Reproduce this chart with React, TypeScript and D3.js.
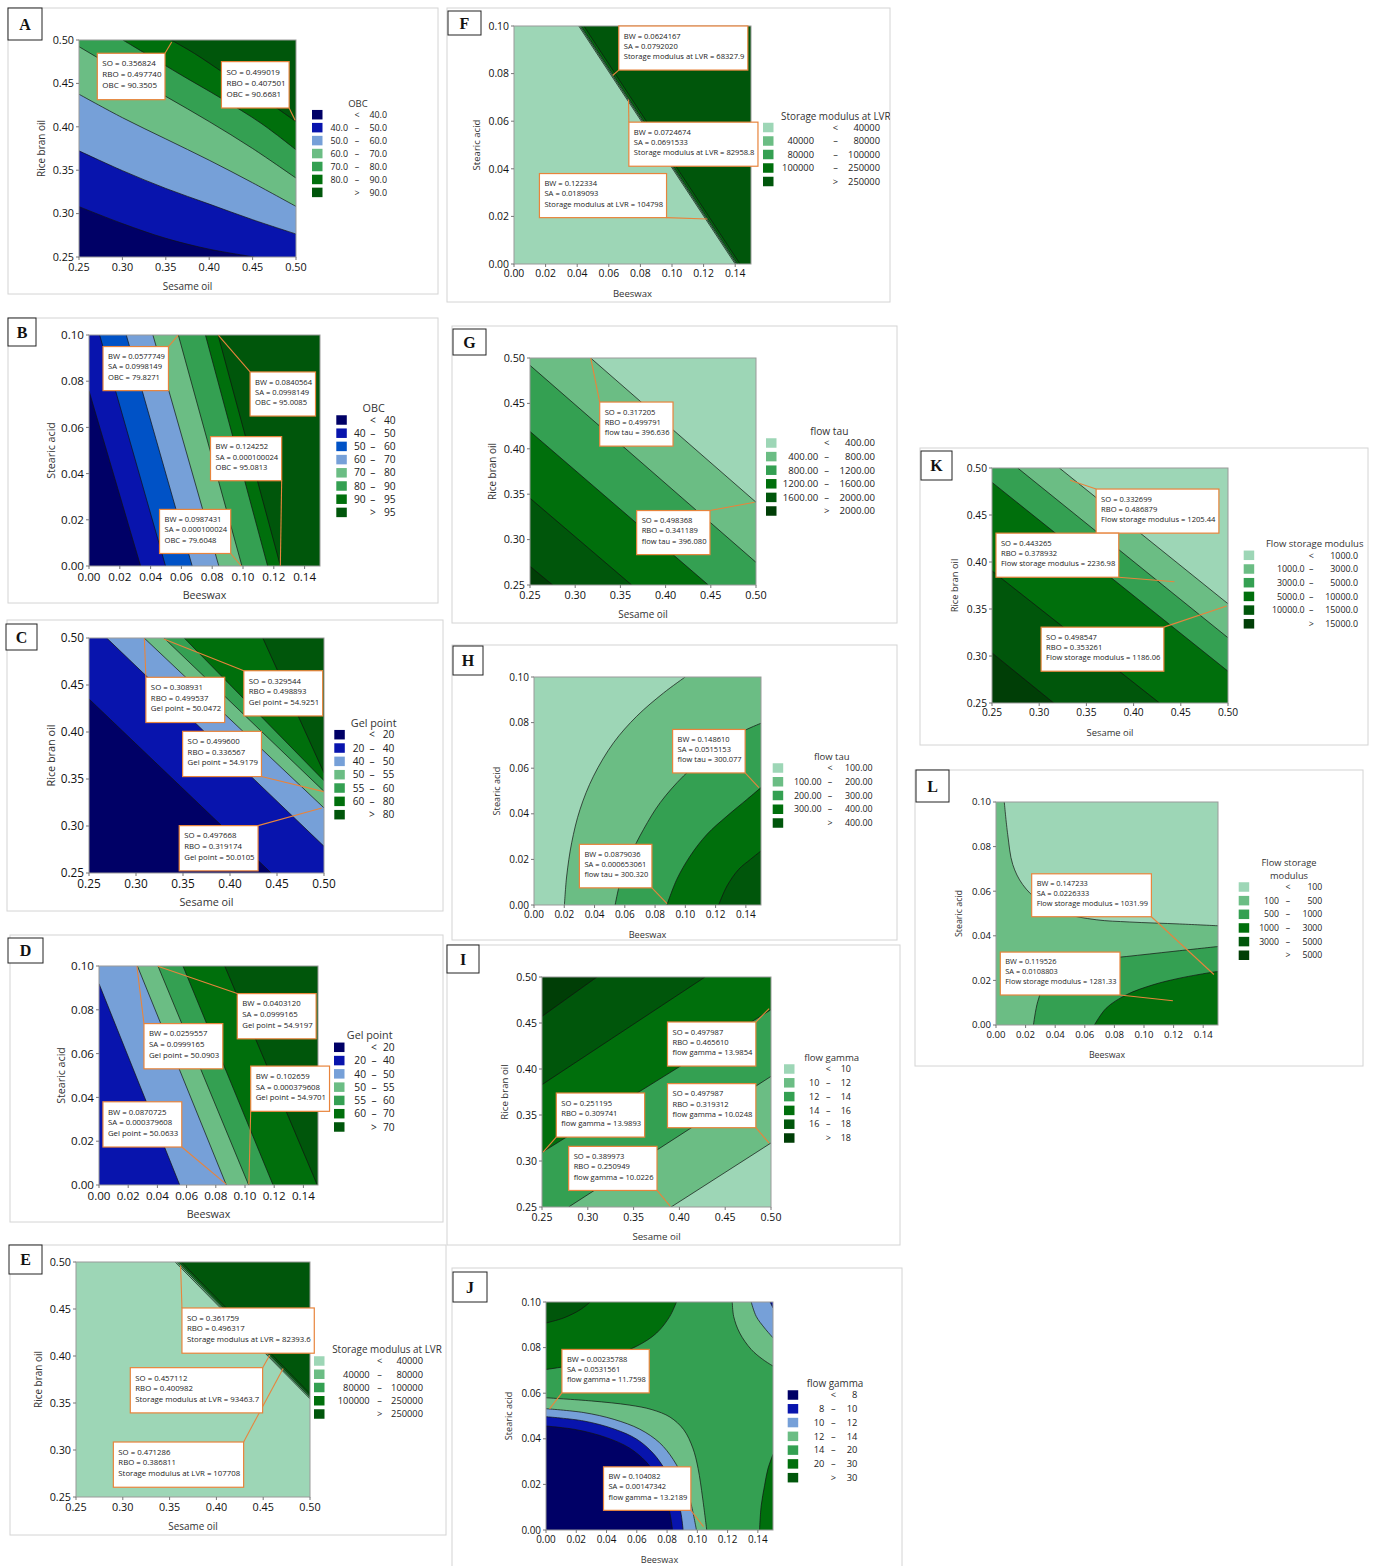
import * as d3 from 'd3';

// palette of the Minitab contour bands
const C = {
  navy: '#000066',
  blue: '#0814ad',
  blue2: '#0052c6',
  lblue: '#76a0d8',
  mint: '#9dd6b6',
  lgreen: '#6bbd84',
  green: '#34a052',
  dgreen: '#006f0c',
  ddgreen: '#00560b',
  dddgreen: '#003e06',
};
const ORANGE = '#e8843c';
const FONT = "'Open Sans', 'Noto Sans', sans-serif";

// axes shared by the two kinds of plot
const oilTicks = [0.25, 0.3, 0.35, 0.4, 0.45, 0.5];
const waxTicksX = [0, 0.02, 0.04, 0.06, 0.08, 0.1, 0.12, 0.14];
const waxTicksY = [0, 0.02, 0.04, 0.06, 0.08, 0.1];
const OIL = { xd: [0.25, 0.5], yd: [0.25, 0.5], xt: oilTicks, yt: oilTicks, xl: 'Sesame oil', yl: 'Rice bran oil', xn: 'SO', yn: 'RBO' };
const WAX = { xd: [0, 0.15], yd: [0, 0.1], xt: waxTicksX, yt: waxTicksY, xl: 'Beeswax', yl: 'Stearic acid', xn: 'BW', yn: 'SA' };

// ---------- A: OBC, sesame oil x rice bran oil
const aBins = ['40.0', '50.0', '60.0', '70.0', '80.0', '90.0'];
const aColors = [C.navy, C.blue, C.lblue, C.lgreen, C.green, C.dgreen, C.ddgreen];
const aContours = [
  { level: 1, line: [[0.25, 0.308], [0.3, 0.2885], [0.35, 0.2715], [0.4, 0.259], [0.452, 0.25]] },
  { level: 2, line: [[0.25, 0.3723], [0.3, 0.3495], [0.35, 0.329], [0.4, 0.311], [0.45, 0.293], [0.5, 0.2765]] },
  { level: 3, line: [[0.25, 0.4375], [0.3, 0.4105], [0.35, 0.386], [0.4, 0.3615], [0.45, 0.3355], [0.5, 0.3083]] },
  { level: 4, line: [[0.25, 0.4923], [0.3, 0.463], [0.35, 0.435], [0.4, 0.406], [0.45, 0.375], [0.5, 0.3409]] },
  { level: 5, line: [[0.3006, 0.5], [0.3294, 0.4827], [0.3677, 0.4597], [0.4137, 0.4329], [0.4597, 0.4041], [0.5, 0.3735]] },
  { level: 6, line: [[0.3562, 0.5], [0.383, 0.4845], [0.4176, 0.4615], [0.4559, 0.4367], [0.5, 0.406]] },
];
const aNotes = [['0.356824', '0.497740', '90.3505'], ['0.499019', '0.407501', '90.6681']];

// ---------- B: OBC, beeswax x stearic acid
const bBins = ['40', '50', '60', '70', '80', '90', '95'];
const bColors = [C.navy, C.blue, C.blue2, C.lblue, C.lgreen, C.green, C.dgreen, C.ddgreen];
const bContours = [
  { level: 1, line: [[0, 0.0758], [0.0335, 0]] },
  { level: 2, line: [[0.0069, 0.1], [0.0497, 0]] },
  { level: 3, line: [[0.0242, 0.1], [0.067, 0]] },
  { level: 4, line: [[0.0415, 0.1], [0.0843, 0]] },
  { level: 5, line: [[0.058, 0.1], [0.0993, 0]] },
  { level: 6, line: [[0.0756, 0.1], [0.116, 0]] },
  { level: 7, line: [[0.0838, 0.1], [0.1243, 0]] },
];
const bNotes = [
  ['0.0577749', '0.0998149', '79.8271'],
  ['0.0840564', '0.0998149', '95.0085'],
  ['0.124252', '0.000100024', '95.0813'],
  ['0.0987431', '0.000100024', '79.6048'],
];

// ---------- C: gel point, sesame oil x rice bran oil
const cBins = ['20', '40', '50', '55', '60', '80'];
const cColors = [C.navy, C.blue, C.lblue, C.lgreen, C.green, C.dgreen, C.ddgreen];
const cContours = [
  { level: 1, line: [[0.25, 0.4351], [0.4438, 0.25]] },
  { level: 2, line: [[0.2688, 0.5], [0.5, 0.2784]] },
  { level: 3, line: [[0.3087, 0.5], [0.5, 0.3192]] },
  { level: 4, line: [[0.3298, 0.5], [0.5, 0.3368]] },
  { level: 5, line: [[0.3513, 0.5], [0.5, 0.3482]] },
  { level: 6, line: [[0.4349, 0.5], [0.5, 0.3564]] },
];
const cNotes = [
  ['0.308931', '0.499537', '50.0472'],
  ['0.329544', '0.498893', '54.9251'],
  ['0.499600', '0.336567', '54.9179'],
  ['0.497668', '0.319174', '50.0105'],
];

// ---------- D: gel point, beeswax x stearic acid
const dBins = ['20', '40', '50', '55', '60', '70'];
const dColors = [C.navy, C.blue, C.lblue, C.lgreen, C.green, C.dgreen, C.ddgreen];
const dContours = [
  { level: 2, line: [[0, 0.0919], [0.0553, 0]] },
  { level: 3, line: [[0.0263, 0.1], [0.0872, 0]] },
  { level: 4, line: [[0.0404, 0.1], [0.1025, 0]] },
  { level: 5, line: [[0.0575, 0.1], [0.1192, 0]] },
  { level: 6, line: [[0.0861, 0.1], [0.1495, 0]] },
];
const dNotes = [
  ['0.0403120', '0.0999165', '54.9197'],
  ['0.0259557', '0.0999165', '50.0903'],
  ['0.102659', '0.000379608', '54.9701'],
  ['0.0870725', '0.000379608', '50.0633'],
];

// ---------- E: storage modulus at LVR, oils
const eBins = ['40000', '80000', '100000', '250000'];
const eColors = [C.mint, C.lgreen, C.green, C.dgreen, C.ddgreen];
const eContours = [
  { level: 1, line: [[0.356, 0.5], [0.5, 0.3545]] },
  { level: 2, line: [[0.3582, 0.5], [0.5, 0.3562]] },
  { level: 3, line: [[0.36, 0.5], [0.5, 0.3578]] },
  { level: 4, line: [[0.3625, 0.5], [0.5, 0.3598]] },
];
const eNotes = [
  ['0.361759', '0.496317', '82393.6'],
  ['0.457112', '0.400982', '93463.7'],
  ['0.471286', '0.386811', '107708'],
];

// ---------- F: storage modulus at LVR, wax
const fBins = ['40000', '80000', '100000', '250000'];
const fColors = [C.mint, C.lgreen, C.green, C.dgreen, C.ddgreen];
const fContours = [
  { level: 1, line: [[0.041, 0.1], [0.14, 0]] },
  { level: 2, line: [[0.0418, 0.1], [0.1408, 0]] },
  { level: 3, line: [[0.0426, 0.1], [0.1416, 0]] },
  { level: 4, line: [[0.0442, 0.1], [0.143, 0]] },
];
const fNotes = [
  ['0.0624167', '0.0792020', '68327.9'],
  ['0.0724674', '0.0691533', '82958.8'],
  ['0.122334', '0.0189093', '104798'],
];

// ---------- G: flow tau, oils
const gBins = ['400.00', '800.00', '1200.00', '1600.00', '2000.00'];
const gColors = [C.mint, C.lgreen, C.green, C.dgreen, C.ddgreen, C.dddgreen];
const gContours = [
  { level: 1, dir: 'cw', line: [[0.3171, 0.5], [0.5, 0.3412]] },
  { level: 2, dir: 'cw', line: [[0.25, 0.4919], [0.5, 0.275]] },
  { level: 3, dir: 'cw', line: [[0.25, 0.4191], [0.4473, 0.25]] },
  { level: 4, dir: 'cw', line: [[0.25, 0.3456], [0.3625, 0.25]] },
  { level: 5, dir: 'cw', line: [[0.25, 0.2706], [0.2751, 0.25]] },
];
const gNotes = [['0.317205', '0.499791', '396.636'], ['0.498368', '0.341189', '396.080']];

// ---------- H: flow tau, wax
const hBins = ['100.00', '200.00', '300.00', '400.00'];
const hColors = [C.mint, C.lgreen, C.green, C.dgreen, C.ddgreen];
const hContours = [
  { level: 1, dir: 'cw', line: [[0.0201, 0], [0.0216, 0.0127], [0.0249, 0.0273], [0.0304, 0.0419], [0.0393, 0.0565], [0.0525, 0.0711], [0.0679, 0.0828], [0.0856, 0.093], [0.0999, 0.1]] },
  { level: 2, dir: 'cw', line: [[0.0536, 0], [0.0569, 0.0098], [0.0635, 0.0215], [0.0724, 0.0332], [0.0834, 0.0449], [0.0988, 0.0566], [0.1165, 0.0668], [0.1363, 0.0756], [0.15, 0.0797]] },
  { level: 3, dir: 'cw', line: [[0.0878, 0], [0.0944, 0.0113], [0.1032, 0.0215], [0.1143, 0.031], [0.1275, 0.039], [0.1407, 0.0463], [0.15, 0.0515]] },
  { level: 4, dir: 'cw', line: [[0.122, 0], [0.1275, 0.0083], [0.1352, 0.0156], [0.143, 0.02], [0.15, 0.0237]] },
];
const hNotes = [['0.148610', '0.0515153', '300.077'], ['0.0879036', '0.000653061', '300.320']];

// ---------- I: flow gamma, oils
const iBins = ['10', '12', '14', '16', '18'];
const iColors = [C.mint, C.lgreen, C.green, C.dgreen, C.ddgreen, C.dddgreen];
const iContours = [
  { level: 1, line: [[0.391, 0.25], [0.5, 0.3196]] },
  { level: 2, line: [[0.2791, 0.25], [0.5, 0.392]] },
  { level: 3, line: [[0.25, 0.3094], [0.5, 0.4645]] },
  { level: 4, line: [[0.25, 0.383], [0.428, 0.5]] },
  { level: 5, line: [[0.25, 0.4572], [0.31, 0.5]] },
];
const iNotes = [
  ['0.497987', '0.465610', '13.9854'],
  ['0.497987', '0.319312', '10.0248'],
  ['0.251195', '0.309741', '13.9893'],
  ['0.389973', '0.250949', '10.0226'],
];

// ---------- J: flow gamma, wax (saddle)
const jBins = ['8', '10', '12', '14', '20', '30'];
const jColors = [C.navy, C.blue, C.lblue, C.lgreen, C.green, C.dgreen, C.ddgreen];
const jContours = [
  { level: 3, dir: 'cw', line: [[0, 0.058], [0.03, 0.0566], [0.055, 0.0548], [0.07, 0.0528], [0.082, 0.0495], [0.091, 0.044], [0.097, 0.036], [0.1005, 0.027], [0.1035, 0.014], [0.1062, 0]] },
  { level: 2, dir: 'cw', line: [[0, 0.0532], [0.025, 0.0515], [0.045, 0.0485], [0.062, 0.0442], [0.075, 0.0383], [0.084, 0.031], [0.091, 0.022], [0.096, 0.011], [0.0994, 0]] },
  { level: 1, dir: 'cw', line: [[0, 0.0497], [0.025, 0.0478], [0.045, 0.0443], [0.06, 0.0398], [0.071, 0.0335], [0.079, 0.026], [0.085, 0.0175], [0.089, 0.008], [0.0906, 0]] },
  { level: 0, dir: 'cw', line: [[0, 0.0456], [0.02, 0.044], [0.04, 0.0405], [0.055, 0.036], [0.066, 0.03], [0.0735, 0.023], [0.079, 0.015], [0.082, 0.007], [0.0836, 0]] },
  { level: 3, line: [[0.1231, 0.1], [0.124, 0.0937], [0.128, 0.0864], [0.1356, 0.0792], [0.1433, 0.0748], [0.15, 0.0719]] },
  { level: 2, line: [[0.1356, 0.1], [0.1389, 0.0937], [0.1444, 0.0886], [0.15, 0.0843]] },
  { level: 1, line: [[0.1481, 0.1], [0.15, 0.0974]] },
  { level: 5, dir: 'cw', line: [[0.0862, 0.1], [0.0818, 0.0937], [0.0731, 0.0864], [0.0599, 0.0806], [0.0424, 0.0762], [0.0204, 0.0726], [0, 0.0704]] },
  { level: 6, dir: 'cw', line: [[0.0292, 0.1], [0.0226, 0.0966], [0.0116, 0.093], [0, 0.0908]] },
  { level: 5, dir: 'cw', line: [[0.1411, 0], [0.1422, 0.0106], [0.1444, 0.0194], [0.1466, 0.0267], [0.15, 0.0332]] },
];
const jNotes = [['0.00235788', '0.0531561', '11.7598'], ['0.104082', '0.00147342', '13.2189']];

// ---------- K: flow storage modulus, oils
const kBins = ['1000.0', '3000.0', '5000.0', '10000.0', '15000.0'];
const kColors = [C.mint, C.lgreen, C.green, C.dgreen, C.ddgreen, C.dddgreen];
const kContours = [
  { level: 1, dir: 'cw', line: [[0.3214, 0.5], [0.5, 0.3556]] },
  { level: 2, dir: 'cw', line: [[0.2772, 0.5], [0.5, 0.3194]] },
  { level: 3, dir: 'cw', line: [[0.25, 0.4847], [0.5, 0.2838]] },
  { level: 4, dir: 'cw', line: [[0.25, 0.3905], [0.4275, 0.25]] },
  { level: 5, dir: 'cw', line: [[0.25, 0.3033], [0.3154, 0.25]] },
];
const kNotes = [
  ['0.332699', '0.486879', '1205.44'],
  ['0.443265', '0.378932', '2236.98'],
  ['0.498547', '0.353261', '1186.06'],
];

// ---------- L: flow storage modulus, wax
const lBins = ['100', '500', '1000', '3000', '5000'];
const lColors = [C.mint, C.lgreen, C.green, C.dgreen, C.ddgreen, C.dddgreen];
const lContours = [
  { level: 1, dir: 'cw', line: [[0.0056, 0.1], [0.0079, 0.0855], [0.0113, 0.072], [0.018, 0.063], [0.0293, 0.0555], [0.0451, 0.0502], [0.0677, 0.0472], [0.09, 0.0462], [0.1241, 0.0453], [0.15, 0.0445]] },
  { level: 2, dir: 'cw', line: [[0.0253, 0], [0.0282, 0.0105], [0.0338, 0.0195], [0.0429, 0.0255], [0.0609, 0.0288], [0.088, 0.0307], [0.1196, 0.033], [0.15, 0.0352]] },
  { level: 3, dir: 'cw', line: [[0.0665, 0], [0.0744, 0.0075], [0.088, 0.0135], [0.106, 0.018], [0.1241, 0.021], [0.1466, 0.0237], [0.15, 0.024]] },
];
const lNotes = [['0.147233', '0.0226333', '1031.99'], ['0.119526', '0.0108803', '1281.33']];

// ---------- layout of the twelve panels (page pixels; callout boxes in data units)
const PANELS = [
  { id: 'A', ax: OIL, resp: 'OBC', title: ['OBC'], bins: aBins, colors: aColors, base: 0, contours: aContours, notes: aNotes,
    frame: [8, 8, 430, 286], letter: [8, 8, 34, 32], plot: [79, 40, 217, 217], fs: { tick: 10.8, leg: 8.9, note: 8 },
    leg: { x: 312, y: 114.7, step: 12.95, t: 46, lo: 36, dash: 45, hi: 75 },
    boxes: [[0.2711, 0.4847], [0.4141, 0.4751]] },
  { id: 'B', ax: WAX, resp: 'OBC', title: ['OBC'], bins: bBins, colors: bColors, base: 0, contours: bContours, notes: bNotes,
    frame: [8, 318, 430, 285], letter: [8, 318, 28, 28], plot: [89, 335, 231, 231], fs: { tick: 11.6, leg: 10.2, note: 7.6 },
    leg: { x: 336.3, y: 420, step: 13.2, t: 37.4, lo: 29.4, dash: 36.5, hi: 59.4 },
    boxes: [[0.0091, 0.095], [0.1046, 0.084], [0.0789, 0.056], [0.0458, 0.0245]] },
  { id: 'C', ax: OIL, resp: 'Gel point', title: ['Gel point'], bins: cBins, colors: cColors, base: 0, contours: cContours, notes: cNotes,
    frame: [7, 620, 436, 291], letter: [6, 624, 31, 26], plot: [89, 638, 235, 235], fs: { tick: 11.8, leg: 10.2, note: 7.8 },
    leg: { x: 334.3, y: 734.7, step: 13.33, t: 39.4, lo: 30, dash: 37.7, hi: 60 },
    boxes: [[0.3105, 0.4582], [0.4147, 0.4652], [0.3496, 0.4007], [0.346, 0.3004]] },
  { id: 'D', ax: WAX, resp: 'Gel point', title: ['Gel point'], bins: dBins, colors: dColors, base: 1, contours: dContours, notes: dNotes,
    frame: [10, 935, 433, 287], letter: [8, 938, 35, 25], plot: [99, 966, 219, 219], fs: { tick: 11.6, leg: 10.2, note: 7.8 },
    leg: { x: 334, y: 1047.3, step: 13.28, t: 35.7, lo: 32, dash: 40, hi: 60.7 },
    boxes: [[0.0947, 0.0874], [0.0308, 0.0737], [0.1039, 0.0543], [0.0027, 0.038]] },
  { id: 'E', ax: OIL, resp: 'Storage modulus at LVR', title: ['Storage modulus at LVR'], bins: eBins, colors: eColors, base: 0, contours: eContours, notes: eNotes,
    frame: [10, 1245, 436, 290], letter: [9, 1245, 33, 29], plot: [76, 1262, 234, 235], fs: { tick: 10.8, leg: 9.3, note: 7.8 },
    leg: { x: 314, y: 1361, step: 13.25, t: 73, lo: 55.7, dash: 65.7, hi: 109 },
    boxes: [[0.3632, 0.4511], [0.308, 0.3876], [0.2899, 0.3085]] },
  { id: 'F', ax: WAX, resp: 'Storage modulus at LVR', title: ['Storage modulus at LVR'], bins: fBins, colors: fColors, base: 0, contours: fContours, notes: fNotes,
    frame: [447, 8, 443, 294], letter: [448, 11, 33, 24], plot: [514, 26, 237, 238], fs: { tick: 10.4, leg: 9.3, note: 7.6 },
    leg: { x: 763, y: 127.5, step: 13.5, t: 18, anchor: 'start', lo: 51, dash: 72.5, hi: 117 },
    boxes: [[0.0663, 0.1], [0.0727, 0.0596], [0.0161, 0.038]] },
  { id: 'G', ax: OIL, resp: 'flow tau', title: ['flow tau'], bins: gBins, colors: gColors, base: 0, contours: gContours, notes: gNotes,
    frame: [452, 326, 445, 297], letter: [453, 329, 33, 26], plot: [530, 358, 226, 227], fs: { tick: 10.8, leg: 9.6, note: 7.6 },
    leg: { x: 766, y: 443, step: 13.6, t: 63.3, lo: 52.3, dash: 60.7, hi: 109 },
    boxes: [[0.3271, 0.4515], [0.368, 0.332]] },
  { id: 'H', ax: WAX, resp: 'flow tau', title: ['flow tau'], bins: hBins, colors: hColors, base: 0, contours: hContours, notes: hNotes,
    frame: [452, 645, 445, 295], letter: [453, 646, 30, 29], plot: [534, 677, 227, 228], fs: { tick: 10, leg: 8.9, note: 7.5 },
    leg: { x: 772.7, y: 768, step: 13.75, t: 59, lo: 49, dash: 57.3, hi: 100 },
    boxes: [[0.0916, 0.077], [0.03, 0.0266]] },
  { id: 'I', ax: OIL, resp: 'flow gamma', title: ['flow gamma'], bins: iBins, colors: iColors, base: 0, contours: iContours, notes: iNotes,
    frame: [447, 945, 453, 300], letter: [447, 945, 32, 28], plot: [542, 977, 229, 230], fs: { tick: 10.5, leg: 9, note: 7.6 },
    leg: { x: 784, y: 1069, step: 13.8, t: 47.7, lo: 35.3, dash: 44.3, hi: 67 },
    boxes: [[0.387, 0.4511], [0.387, 0.3841], [0.2656, 0.3739], [0.2791, 0.3159]] },
  { id: 'J', ax: WAX, resp: 'flow gamma', title: ['flow gamma'], bins: jBins, colors: jColors, base: 4, contours: jContours, notes: jNotes,
    frame: [452, 1268, 450, 300], letter: [453, 1272, 34, 30], plot: [546, 1302, 227, 228], fs: { tick: 9.9, leg: 9.3, note: 7.5 },
    leg: { x: 787.7, y: 1395, step: 13.78, t: 47.3, lo: 36.6, dash: 45.6, hi: 69.6 },
    boxes: [[0.0105, 0.0792], [0.038, 0.0277]] },
  { id: 'K', ax: OIL, resp: 'Flow storage modulus', title: ['Flow storage modulus'], bins: kBins, colors: kColors, base: 0, contours: kContours, notes: kNotes,
    frame: [920, 448, 448, 297], letter: [921, 451, 31, 29], plot: [992, 468, 236, 235], fs: { tick: 10.2, leg: 8.9, note: 7.6 },
    leg: { x: 1243.7, y: 555.3, step: 13.7, t: 71, lo: 61, dash: 67.6, hi: 114.3 },
    boxes: [[0.3603, 0.4776], [0.2542, 0.4307], [0.302, 0.3307]] },
  { id: 'L', ax: WAX, resp: 'Flow storage modulus', title: ['Flow storage', 'modulus'], bins: lBins, colors: lColors, base: 0, contours: lContours, notes: lNotes,
    frame: [915, 770, 448, 296], letter: [916, 770, 33, 32], plot: [996, 802, 222, 223], fs: { tick: 9.6, leg: 8.7, note: 7.4 },
    leg: { x: 1238.7, y: 887, step: 13.65, t: 50.3, lo: 40.3, dash: 49.3, hi: 83.6 },
    boxes: [[0.0241, 0.0678], [0.0029, 0.0327]] },
];

let measureCtx = null;
function textWidth(s, fs) {
  if (!measureCtx && typeof document !== 'undefined') measureCtx = document.createElement('canvas').getContext('2d');
  if (!measureCtx) return s.length * fs * 0.55;
  measureCtx.font = `${fs}px "Open Sans"`;
  return measureCtx.measureText(s).width;
}

// closes a contour line along the plot frame, walking cw or ccw from its end back to its start
function closeAlongFrame(line, xd, yd, dir) {
  const [x0, x1] = xd;
  const [y0, y1] = yd;
  const ex = (x1 - x0) * 1e-3;
  const ey = (y1 - y0) * 1e-3;
  const tOf = ([x, y]) => {
    if (Math.abs(y - y1) < ey) return (x - x0) / (x1 - x0);
    if (Math.abs(x - x1) < ex) return 1 + (y1 - y) / (y1 - y0);
    if (Math.abs(y - y0) < ey) return 2 + (x1 - x) / (x1 - x0);
    return 3 + (y - y0) / (y1 - y0);
  };
  const corners = [[x0, y1], [x1, y1], [x1, y0], [x0, y0]];
  const ts = tOf(line[0]);
  const te = tOf(line[line.length - 1]);
  const out = [];
  if (dir === 'cw') {
    let s = ts;
    if (s <= te) s += 4;
    for (let k = Math.floor(te) + 1; k < s; k++) out.push(corners[k % 4]);
  } else {
    let s = ts;
    if (s >= te) s -= 4;
    for (let k = Math.ceil(te) - 1; k > s; k--) out.push(corners[((k % 4) + 4) % 4]);
  }
  return out;
}

const fmt2 = d3.format('.2f');

function Panel({ p }) {
  const ax = p.ax;
  const [px, py, pw, ph] = p.plot;
  const x = d3.scaleLinear().domain(ax.xd).range([px, px + pw]);
  const y = d3.scaleLinear().domain(ax.yd).range([py + ph, py]);
  const curve = d3
    .line()
    .x((d) => x(d[0]))
    .y((d) => y(d[1]))
    .curve(d3.curveCatmullRom.alpha(0.5));
  const [fx, fy, fw, fh] = p.frame;
  const [lx, ly, lw, lh] = p.letter;
  const tickFs = p.fs.tick;
  const labFs = tickFs * 0.92;
  const legFs = p.fs.leg;
  const noteFs = p.fs.note;
  const L = p.leg;
  const nItems = p.colors.length;

  const regions = p.contours.map((c) => {
    const rest = closeAlongFrame(c.line, ax.xd, ax.yd, c.dir || 'ccw');
    return curve(c.line) + rest.map((q) => `L${x(q[0])},${y(q[1])}`).join('') + 'Z';
  });

  const callouts = p.notes.map((n, i) => {
    const lines = [`${ax.xn} = ${n[0]}`, `${ax.yn} = ${n[1]}`, `${p.resp} = ${n[2]}`];
    const w = Math.max(...lines.map((s) => textWidth(s, noteFs))) + 8.5;
    const h = noteFs * 5.8;
    const bx = x(p.boxes[i][0]);
    const by = y(p.boxes[i][1]);
    const tx = x(+n[0]);
    const ty = y(+n[1]);
    const corners = [[bx, by], [bx + w, by], [bx, by + h], [bx + w, by + h]];
    const near = corners.reduce((a, b) => (Math.hypot(a[0] - tx, a[1] - ty) <= Math.hypot(b[0] - tx, b[1] - ty) ? a : b));
    return { lines, w, h, bx, by, tx, ty, near };
  });

  return (
    <g fontFamily={FONT}>
      <defs>
        <clipPath id={`frame-${p.id}`}>
          <rect x={fx} y={fy} width={fw} height={fh} />
        </clipPath>
        <clipPath id={`plot-${p.id}`}>
          <rect x={px} y={py} width={pw} height={ph} />
        </clipPath>
      </defs>
      <rect x={fx} y={fy} width={fw} height={fh} fill="#fff" stroke="#d4d4d4" strokeWidth={1} />
      <g clipPath={`url(#frame-${p.id})`}>
        <g clipPath={`url(#plot-${p.id})`}>
          <rect x={px} y={py} width={pw} height={ph} fill={p.colors[p.base]} />
          {regions.map((d, i) => (
            <path key={i} d={d} fill={p.colors[p.contours[i].level]} stroke="none" />
          ))}
          {p.contours.map((c, i) => (
            <path key={i} d={curve(c.line)} fill="none" stroke="#111" strokeWidth={0.7} />
          ))}
        </g>
        <rect x={px} y={py} width={pw} height={ph} fill="none" stroke="#9a9a9a" strokeWidth={1} />

        {ax.xt.map((t) => (
          <g key={`x${t}`}>
            <line x1={x(t)} x2={x(t)} y1={py + ph} y2={py + ph + 3} stroke="#777" />
            <text x={x(t)} y={py + ph + tickFs + 3} fontSize={tickFs} textAnchor="middle" fill="#111">
              {fmt2(t)}
            </text>
          </g>
        ))}
        {ax.yt.map((t) => (
          <g key={`y${t}`}>
            <line x1={px - 3} x2={px} y1={y(t)} y2={y(t)} stroke="#777" />
            <text x={px - 5} y={y(t) + tickFs * 0.36} fontSize={tickFs} textAnchor="end" fill="#111">
              {fmt2(t)}
            </text>
          </g>
        ))}
        <text x={px + pw / 2} y={py + ph + 33} fontSize={labFs} textAnchor="middle" fill="#333">
          {ax.xl}
        </text>
        <text transform={`translate(${px - 34},${py + ph / 2}) rotate(-90)`} fontSize={labFs} textAnchor="middle" fill="#333">
          {ax.yl}
        </text>

        {/* legend */}
        {p.title.map((s, j) => (
          <text
            key={j}
            x={L.x + L.t}
            y={L.y - 8 - (p.title.length - 1 - j) * 13.4}
            fontSize={legFs + 0.6}
            textAnchor={L.anchor || 'middle'}
            fill="#333"
          >
            {s}
          </text>
        ))}
        {p.colors.map((col, i) => {
          const cy = L.y + i * L.step;
          const ty = cy + legFs * 0.36;
          const first = i === 0;
          const last = i === nItems - 1;
          return (
            <g key={i} fontSize={legFs} fill="#222">
              <rect x={L.x} y={cy - 4.75} width={10.5} height={9.5} fill={col} />
              {first || last ? (
                <text x={L.x + L.dash} y={ty} textAnchor="middle">
                  {first ? '<' : '>'}
                </text>
              ) : (
                <>
                  <text x={L.x + L.lo} y={ty} textAnchor="end">
                    {p.bins[i - 1]}
                  </text>
                  <text x={L.x + L.dash} y={ty} textAnchor="middle">
                    –
                  </text>
                </>
              )}
              <text x={L.x + L.hi} y={ty} textAnchor="end">
                {last ? p.bins[p.bins.length - 1] : p.bins[i]}
              </text>
            </g>
          );
        })}

        {/* callouts */}
        {callouts.map((c, i) => (
          <line key={`l${i}`} x1={c.near[0]} y1={c.near[1]} x2={c.tx} y2={c.ty} stroke={ORANGE} strokeWidth={1.1} />
        ))}
        {callouts.map((c, i) => (
          <g key={`b${i}`}>
            <rect x={c.bx} y={c.by} width={c.w} height={c.h} fill="#fff" stroke={ORANGE} strokeWidth={1.2} />
            {c.lines.map((s, j) => (
              <text key={j} x={c.bx + 5} y={c.by + noteFs * 1.65 + j * noteFs * 1.36} fontSize={noteFs} fill="#222">
                {s}
              </text>
            ))}
          </g>
        ))}
      </g>

      <rect x={lx} y={ly} width={lw} height={lh} fill="#fff" stroke="#222" strokeWidth={1} />
      <text
        x={lx + lw / 2}
        y={ly + lh / 2 + 5.5}
        fontFamily="'Liberation Serif', 'DejaVu Serif', serif"
        fontWeight="bold"
        fontSize={16}
        textAnchor="middle"
        fill="#111"
      >
        {p.id}
      </text>
    </g>
  );
}

export default function App() {
  return (
    <svg width={1381} height={1566} style={{ position: 'absolute', left: 0, top: 0, background: '#fff' }}>
      <rect width={1381} height={1566} fill="#fff" />
      {PANELS.map((p) => (
        <Panel key={p.id} p={p} />
      ))}
    </svg>
  );
}
